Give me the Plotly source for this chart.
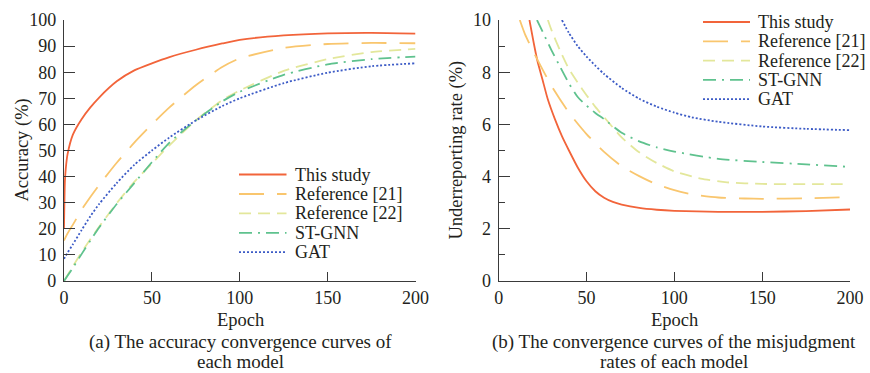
import plotly.graph_objects as go

# ---------------- data: (a) accuracy ----------------
epoch_a = [0, 0.5, 1, 2, 5, 10, 15, 20, 30, 40, 50, 60, 75, 90, 100, 125, 150, 175, 200]
acc_this = [20, 38, 43, 48.5, 56, 62, 66.5, 70.3, 76.5, 80.7, 83.4, 85.8, 88.6, 91, 92.4, 94.1, 94.9, 95.1, 94.8]
acc_ref21 = [15.5, 16.2, 16.9, 18.2, 21.5, 27.3, 32.2, 36.8, 45.3, 53, 60, 66.5, 75, 82, 85.3, 89.3, 90.8, 91.2, 91.1]
acc_ref22 = [0, 0.6, 1.1, 2.2, 5.6, 11, 16, 20.8, 29.8, 38, 45, 52, 61.5, 69.3, 73, 80.5, 85, 87.7, 88.9]
acc_stgnn = [0, 0.5, 1, 2, 5, 10.3, 15.5, 20.5, 29.5, 37.5, 45.5, 53, 61.5, 68.8, 72.5, 79, 83, 85, 86]
acc_gat = [8.5, 9.1, 9.7, 10.8, 14, 19.5, 24.8, 29.5, 37.5, 44.5, 50, 55, 61.5, 67, 70, 75.8, 79.8, 82.3, 83.4]

# ---------------- data: (b) underreporting rate ----------------
ep_b_this = [17.5, 20, 22, 25, 28, 32, 36, 40, 45, 50, 55, 60, 65, 70, 80, 90, 100, 125, 150, 175, 200]
ur_this = [10, 9.1, 8.45, 7.7, 6.95, 6.2, 5.55, 5.0, 4.35, 3.82, 3.44, 3.19, 3.03, 2.93, 2.8, 2.73, 2.69, 2.65, 2.65, 2.68, 2.74]
ep_b_ref21 = [12, 15, 20, 25, 30, 40, 50, 60, 70, 80, 90, 100, 110, 125, 140, 150, 175, 200]
ur_ref21 = [10, 9.45, 8.75, 8.1, 7.48, 6.45, 5.63, 4.95, 4.4, 4.02, 3.7, 3.48, 3.32, 3.2, 3.16, 3.15, 3.17, 3.22]
ep_b_ref22 = [28, 30, 35, 40, 45, 50, 55, 60, 70, 80, 90, 100, 115, 130, 150, 175, 200]
ur_ref22 = [10, 9.62, 8.82, 8.12, 7.6, 7.12, 6.67, 6.28, 5.5, 4.93, 4.52, 4.2, 3.92, 3.78, 3.72, 3.71, 3.71]
ep_b_stgnn = [21.8, 25, 30, 35, 40, 45, 50, 55, 60, 70, 80, 90, 100, 125, 150, 175, 200]
ur_stgnn = [10, 9.55, 8.85, 8.2, 7.57, 7.05, 6.72, 6.44, 6.2, 5.68, 5.35, 5.12, 4.96, 4.68, 4.56, 4.47, 4.37]
ep_b_gat = [36, 40, 45, 50, 55, 60, 70, 80, 90, 100, 110, 125, 150, 175, 200]
ur_gat = [10, 9.5, 9.0, 8.6, 8.25, 7.93, 7.4, 6.98, 6.68, 6.45, 6.27, 6.1, 5.92, 5.83, 5.78]

names = ["This study", "Reference [21]", "Reference [22]", "ST-GNN", "GAT"]
colors = ["#F2643A", "#F9C66E", "#E3E79B", "#5FC28E", "#3C5BC6"]
dashes = ["solid", "25px,13px", "12px,7px", "13px,6px,2px,6px", "2px,2px"]

W, H = 870, 373
FONT = "Liberation Serif, Times New Roman, serif"
TXT = "#231F20"
AX = "#3A3A3A"


def px(x):
    return x / W


def py(y):
    return 1 - y / H


fig = go.Figure()

series_a = [acc_this, acc_ref21, acc_ref22, acc_stgnn, acc_gat]
for name, ys, c, d in zip(names, series_a, colors, dashes):
    fig.add_trace(go.Scatter(x=epoch_a, y=ys, mode="lines", name=name, showlegend=False,
                             line=dict(color=c, width=1.8, dash=d, shape="spline", smoothing=0.6),
                             xaxis="x", yaxis="y"))

series_b = [(ep_b_this, ur_this), (ep_b_ref21, ur_ref21), (ep_b_ref22, ur_ref22),
            (ep_b_stgnn, ur_stgnn), (ep_b_gat, ur_gat)]
for name, (xs, ys), c, d in zip(names, series_b, colors, dashes):
    fig.add_trace(go.Scatter(x=xs, y=ys, mode="lines", name=name, showlegend=False,
                             line=dict(color=c, width=1.8, dash=d, shape="spline", smoothing=0.6),
                             xaxis="x2", yaxis="y2"))

tickfont = dict(family=FONT, size=18, color=TXT)
common_x = dict(range=[0, 200], tickvals=[0, 50, 100, 150, 200], ticks="inside", ticklen=9,
                tickwidth=1.3, tickcolor=AX, showline=True, linecolor=AX, linewidth=1.3,
                showgrid=False, zeroline=False, tickfont=tickfont, fixedrange=True,
                automargin=False)
common_y = dict(ticks="inside", ticklen=11, tickwidth=1.3, tickcolor=AX, showline=True,
                linecolor=AX, linewidth=1.3, showgrid=False, zeroline=False, tickfont=tickfont,
                ticklabelstandoff=3, fixedrange=True, automargin=False)

fig.update_layout(
    width=W, height=H,
    margin=dict(l=0, r=0, t=0, b=0, autoexpand=False),
    paper_bgcolor="white", plot_bgcolor="white",
    font=dict(family=FONT, size=18, color=TXT),
    xaxis=dict(domain=[px(64), px(415.5)], anchor="y", **common_x),
    yaxis=dict(domain=[py(281), py(20)], anchor="x", range=[0, 100],
               tickvals=[0, 10, 20, 30, 40, 50, 60, 70, 80, 90, 100], **common_y),
    xaxis2=dict(domain=[px(498.7), px(850)], anchor="y2", **common_x),
    yaxis2=dict(domain=[py(281), py(20)], anchor="x2", range=[0, 10],
                tickvals=[0, 2, 4, 6, 8, 10],
                minor=dict(tickvals=[1, 3, 5, 7, 9], ticks="inside", ticklen=6,
                           tickwidth=1.3, tickcolor=AX),
                **common_y),
)

annotations = []


def text(x, y, s, angle=0, xanchor="center", size=18):
    annotations.append(dict(x=px(x), y=py(y), xref="paper", yref="paper", text=s,
                            showarrow=False, textangle=angle, xanchor=xanchor, yanchor="middle",
                            font=dict(family=FONT, size=size, color=TXT)))


# axis titles and captions
text(22, 150.5, "Accuracy (%)", angle=-90, size=18.5)
text(456, 150.5, "Underreporting rate (%)", angle=-90, size=18.5)
text(240, 320, "Epoch", size=18.5)
text(674, 320, "Epoch", size=18.5)
text(240, 342, "(a) The accuracy convergence curves of", size=19)
text(240, 361, "each model", size=19)
text(674, 342, "(b) The convergence curves of the misjudgment", size=19)
text(674, 361, "rates of each model", size=19)

# legends
shapes = []
leg_a_y = [174.5, 194, 213.4, 232.8, 252.2]
leg_b_y = [22, 41.3, 60.6, 79.9, 99.2]
for i, (c, d, n) in enumerate(zip(colors, dashes, names)):
    for (x0, x1, ty) in [(239, 286.5, leg_a_y[i]), (703, 750, leg_b_y[i])]:
        shapes.append(dict(type="line", xref="paper", yref="paper", x0=px(x0), x1=px(x1),
                           y0=py(ty), y1=py(ty), line=dict(color=c, width=1.8, dash=d)))
        text(x1 + 6, ty, n, xanchor="left", size=18)

fig.update_layout(annotations=annotations, shapes=shapes)

fig.write_html("out.html", config={"displayModeBar": False},
               post_script="document.body.style.margin='0';document.body.style.padding='0';")
